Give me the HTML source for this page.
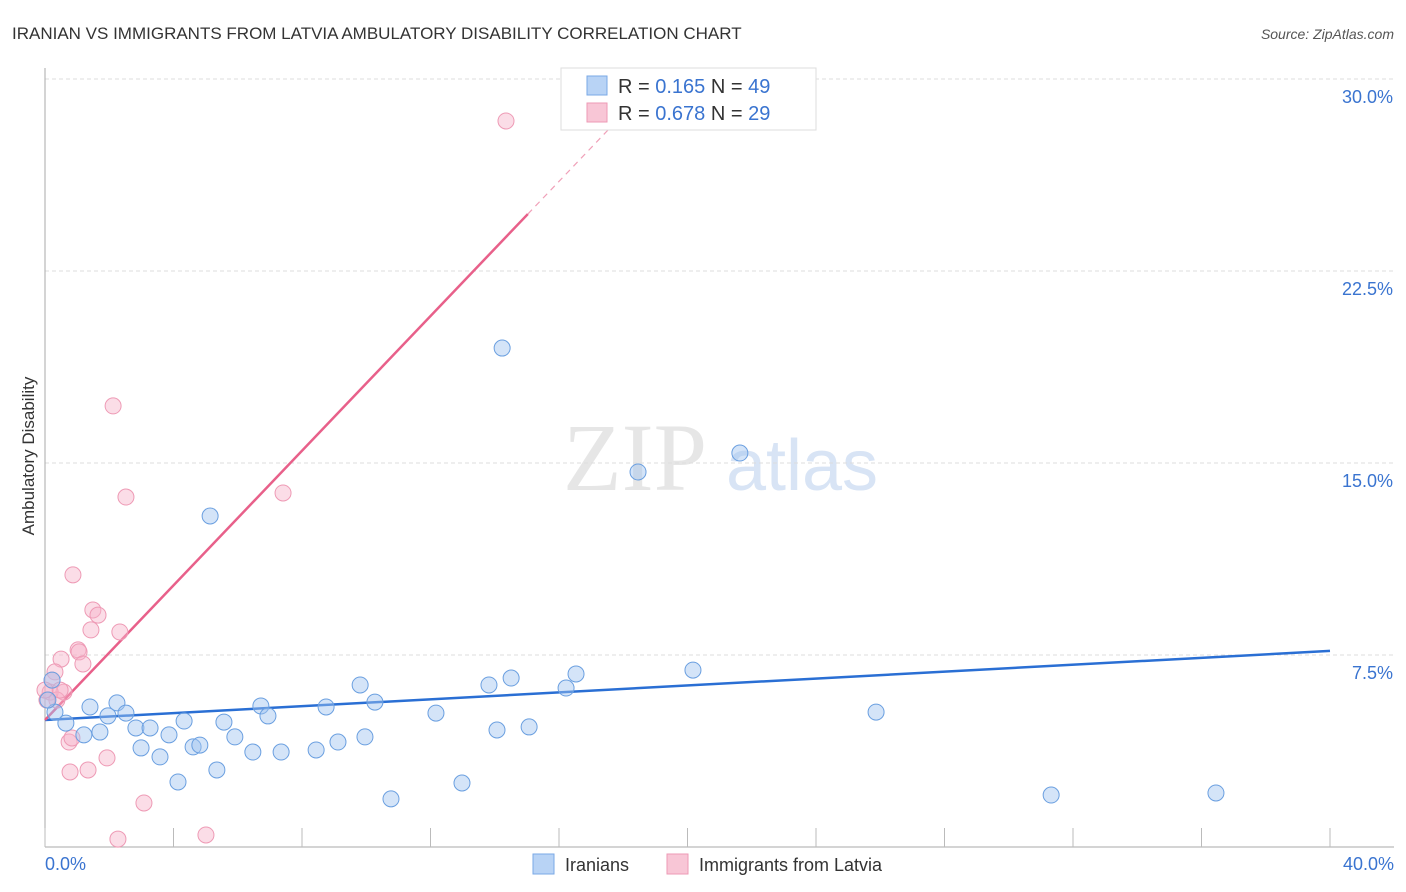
<!DOCTYPE html>
<html><head><meta charset="utf-8"><style>
body{margin:0;background:#fff;font-family:"Liberation Sans",sans-serif;}
svg{display:block}
</style></head><body>
<svg id="chart" width="1406" height="892">
<text x="12" y="39" font-size="17" fill="#333">IRANIAN VS IMMIGRANTS FROM LATVIA AMBULATORY DISABILITY CORRELATION CHART</text>
<text x="1394" y="39" font-size="14" fill="#555" font-style="italic" text-anchor="end">Source: ZipAtlas.com</text>
<text x="0" y="0" transform="translate(34,456) rotate(-90)" font-size="17" fill="#333" text-anchor="middle">Ambulatory Disability</text>
<g>
<text x="635" y="490" font-size="96" font-family="Liberation Serif,serif" fill="#e6e6e6" text-anchor="middle">ZIP</text>
<text x="802" y="490" font-size="72" fill="#d8e4f5" text-anchor="middle">atlas</text>
</g>
<g id="grid"></g><g id="axes"></g><g id="lines"></g><g id="pts"></g>
<g>
<rect x="561" y="68" width="255" height="62" fill="#fff" stroke="#ddd"/>
<rect x="587" y="76" width="20" height="19" fill="#b8d3f5" stroke="#7aa8e6"/>
<rect x="587" y="103" width="20" height="19" fill="#f8c6d6" stroke="#ee9ab5"/>
<text x="618" y="93" font-size="20" fill="#333">R = <tspan fill="#3a74d0">0.165</tspan>   N = <tspan fill="#3a74d0">49</tspan></text>
<text x="618" y="120" font-size="20" fill="#333">R = <tspan fill="#3a74d0">0.678</tspan>   N = <tspan fill="#3a74d0">29</tspan></text>
</g>
<g>
<rect x="533" y="854" width="21" height="20" fill="#b8d3f5" stroke="#7aa8e6"/>
<text x="565" y="871" font-size="18" fill="#333">Iranians</text>
<rect x="667" y="854" width="21" height="20" fill="#f8c6d6" stroke="#ee9ab5"/>
<text x="699" y="871" font-size="18" fill="#333">Immigrants from Latvia</text>
</g>
</svg>
<script>
const yTicks=[7.5,15,22.5,30];
const yTickLabels=["7.5%","15.0%","22.5%","30.0%"];
const xTickVals=[0,4,8,12,16,20,24,28,32,36,40];
const blueX=[5.14,14.23,18.46,21.63,1.40,2.24,0.65,1.21,1.71,1.96,2.52,2.83,3.27,2.99,3.58,3.86,4.33,4.61,4.82,4.14,5.35,5.57,5.91,6.47,6.72,6.94,7.35,8.44,8.75,9.12,9.81,9.96,10.27,10.77,12.17,12.98,13.82,14.07,14.51,15.07,16.22,16.53,20.17,25.87,31.32,36.45,0.22,0.31,0.09];
const blueY=[12.93,19.49,14.65,15.39,5.47,5.63,4.84,4.38,4.49,5.12,5.23,4.65,4.65,3.87,3.52,4.38,4.92,3.91,3.98,2.54,3.01,4.88,4.30,3.71,5.51,5.12,3.71,3.79,5.47,4.10,6.33,4.30,5.66,1.88,5.23,2.50,6.33,4.57,6.60,4.69,6.21,6.76,6.91,5.27,2.03,2.11,6.52,5.27,5.74];
const pinkX=[14.35,2.12,2.52,7.41,0.87,1.49,1.65,1.43,1.03,1.06,1.18,2.33,0.50,0.31,0.59,0.16,0.37,0.75,0.84,0.78,1.34,1.93,3.08,2.27,5.01,0.22,0.47,0.06,0.0];
const pinkY=[28.36,17.23,13.67,13.83,10.63,9.26,9.06,8.48,7.70,7.62,7.15,8.40,7.34,6.84,6.05,6.05,5.74,4.10,4.26,2.93,3.01,3.48,1.72,0.31,0.47,6.52,6.13,5.74,6.13];
const blueTrend=[4.96,0.0675];
const pinkTrend=[4.96,1.315];
const X0=45,X1=1330,Y0=847,Y1=79;
const sx=v=>X0+(X1-X0)*v/40, sy=v=>Y0-(Y0-Y1)*v/30;
const NS="http://www.w3.org/2000/svg";
function mk(t,a,p){const e=document.createElementNS(NS,t);for(const k in a)e.setAttribute(k,a[k]);document.getElementById(p).appendChild(e);return e;}
yTicks.forEach((v,i)=>{
 const g=mk('line',{x1:X0,x2:1394,y1:sy(v),y2:sy(v),stroke:'#ddd','stroke-dasharray':'4,3'},'grid');
 
 
 const t=mk('text',{x:1393,y:sy(v)+24,'font-size':18,fill:'#3a74d0','text-anchor':'end'},'grid');t.textContent=yTickLabels[i];
 
 
});
const ax=mk('line',{x1:X0,x2:X0,y1:68,y2:Y0,stroke:'#aaa'},'axes');


const bx=mk('line',{x1:X0,x2:1394,y1:Y0,y2:Y0,stroke:'#aaa'},'axes');


xTickVals.forEach(v=>{
 const t=mk('line',{x1:sx(v),x2:sx(v),y1:828,y2:Y0,stroke:'#bbb'},'axes');
 
 
});
const xl=mk('text',{x:45,y:870,'font-size':18,fill:'#3a74d0'},'axes');xl.textContent='0.0%';


const xr=mk('text',{x:1394,y:870,'font-size':18,fill:'#3a74d0','text-anchor':'end'},'axes');xr.textContent='40.0%';


function pts(xs,ys,fill,stroke,name){xs.forEach((x,i)=>{
 const c=mk('circle',{cx:sx(x),cy:sy(ys[i]),r:8,fill:fill,stroke:stroke,'stroke-width':1},'pts');
 
 
});}
pts(pinkX,pinkY,'rgba(246,180,202,0.45)','#ee9ab5','latvia-point');
pts(blueX,blueY,'rgba(160,196,240,0.45)','#6a9fe0','iranian-point');
const bl=mk('line',{x1:sx(0),y1:sy(blueTrend[0]),x2:sx(40),y2:sy(blueTrend[0]+40*blueTrend[1]),stroke:'#2a6fd4','stroke-width':2.5},'lines');


const pl=mk('line',{x1:sx(0),y1:sy(pinkTrend[0]),x2:sx(15.03),y2:sy(pinkTrend[0]+15.03*pinkTrend[1]),stroke:'#e8608a','stroke-width':2.5},'lines');


const pd=mk('line',{x1:sx(15.03),y1:sy(pinkTrend[0]+15.03*pinkTrend[1]),x2:sx(18.5),y2:sy(pinkTrend[0]+18.5*pinkTrend[1]),stroke:'#f0a0b8','stroke-width':1.2,'stroke-dasharray':'6,5'},'lines');


</script>
</body></html>
